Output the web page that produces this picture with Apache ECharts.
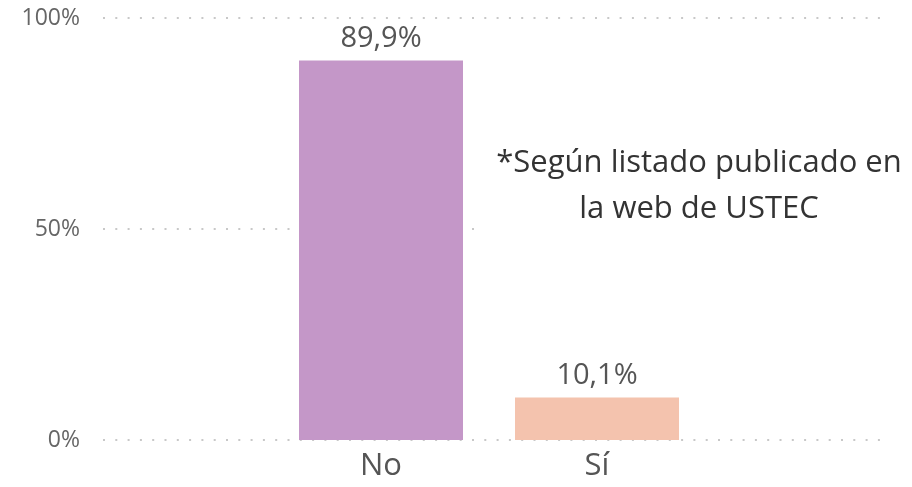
<!DOCTYPE html>
<html>
<head>
<meta charset="utf-8">
<script src="https://cdn.jsdelivr.net/npm/echarts@6/dist/echarts.min.js"></script>
<style>
  html, body { margin: 0; padding: 0; background: #fff; }
  #chart { width: 912px; height: 487px; }
</style>
</head>
<body>
<div id="chart"></div>
<script>
// data
var categories = ["No", "Sí"];
var values = [89.9, 10.1];
var barColors = ["#C497C8", "#F4C3AE"];
var yTicks = [0, 50, 100];
var note = "*Según listado publicado en\nla web de USTEC";

var font = "Open Sans";
var chart = echarts.init(document.getElementById("chart"));

chart.setOption({
  animation: false,
  grid: [
    // background grid with the dotted lines
    { left: 103, right: 28, top: 18, bottom: 47 },
    // narrower grid that holds the two bars
    { left: 273, width: 432, top: 18, bottom: 47 }
  ],
  xAxis: [
    { gridIndex: 0, type: "value", show: false, min: 0, max: 1 },
    {
      gridIndex: 1,
      type: "category",
      data: categories,
      axisLine: { show: false },
      axisTick: { show: false },
      axisLabel: {
        fontFamily: font,
        fontSize: 31,
        color: "#555",
        margin: 11
      }
    }
  ],
  yAxis: [
    {
      gridIndex: 0,
      type: "value",
      min: yTicks[0],
      max: yTicks[yTicks.length - 1],
      interval: 50,
      axisLine: { show: false },
      axisTick: { show: false },
      axisLabel: {
        fontFamily: font,
        fontSize: 23,
        color: "#666",
        margin: 23,
        formatter: "{value}%"
      },
      splitLine: {
        lineStyle: { color: "#c8c8c8", width: 2, type: [2, 10.3] }
      }
    },
    { gridIndex: 1, type: "value", min: 0, max: 100, show: false }
  ],
  series: [
    {
      type: "bar",
      xAxisIndex: 1,
      yAxisIndex: 1,
      barWidth: 164,
      data: values.map(function (v, i) {
        return { value: v, itemStyle: { color: barColors[i] } };
      }),
      label: {
        show: true,
        position: "top",
        distance: 7,
        fontFamily: font,
        fontSize: 29,
        color: "#555",
        formatter: function (p) {
          return p.value.toFixed(1).replace(".", ",") + "%";
        }
      }
    }
  ],
  graphic: [
    {
      type: "rect",
      z: 100,
      shape: { x: 476, y: 134, width: 436, height: 112 },
      style: { fill: "#fff" }
    },
    {
      type: "text",
      z: 101,
      x: 699,
      y: 140,
      style: {
        text: note,
        font: "31px '" + font + "'",
        fill: "#333",
        align: "center",
        lineHeight: 46
      }
    }
  ]
});
</script>
</body>
</html>
